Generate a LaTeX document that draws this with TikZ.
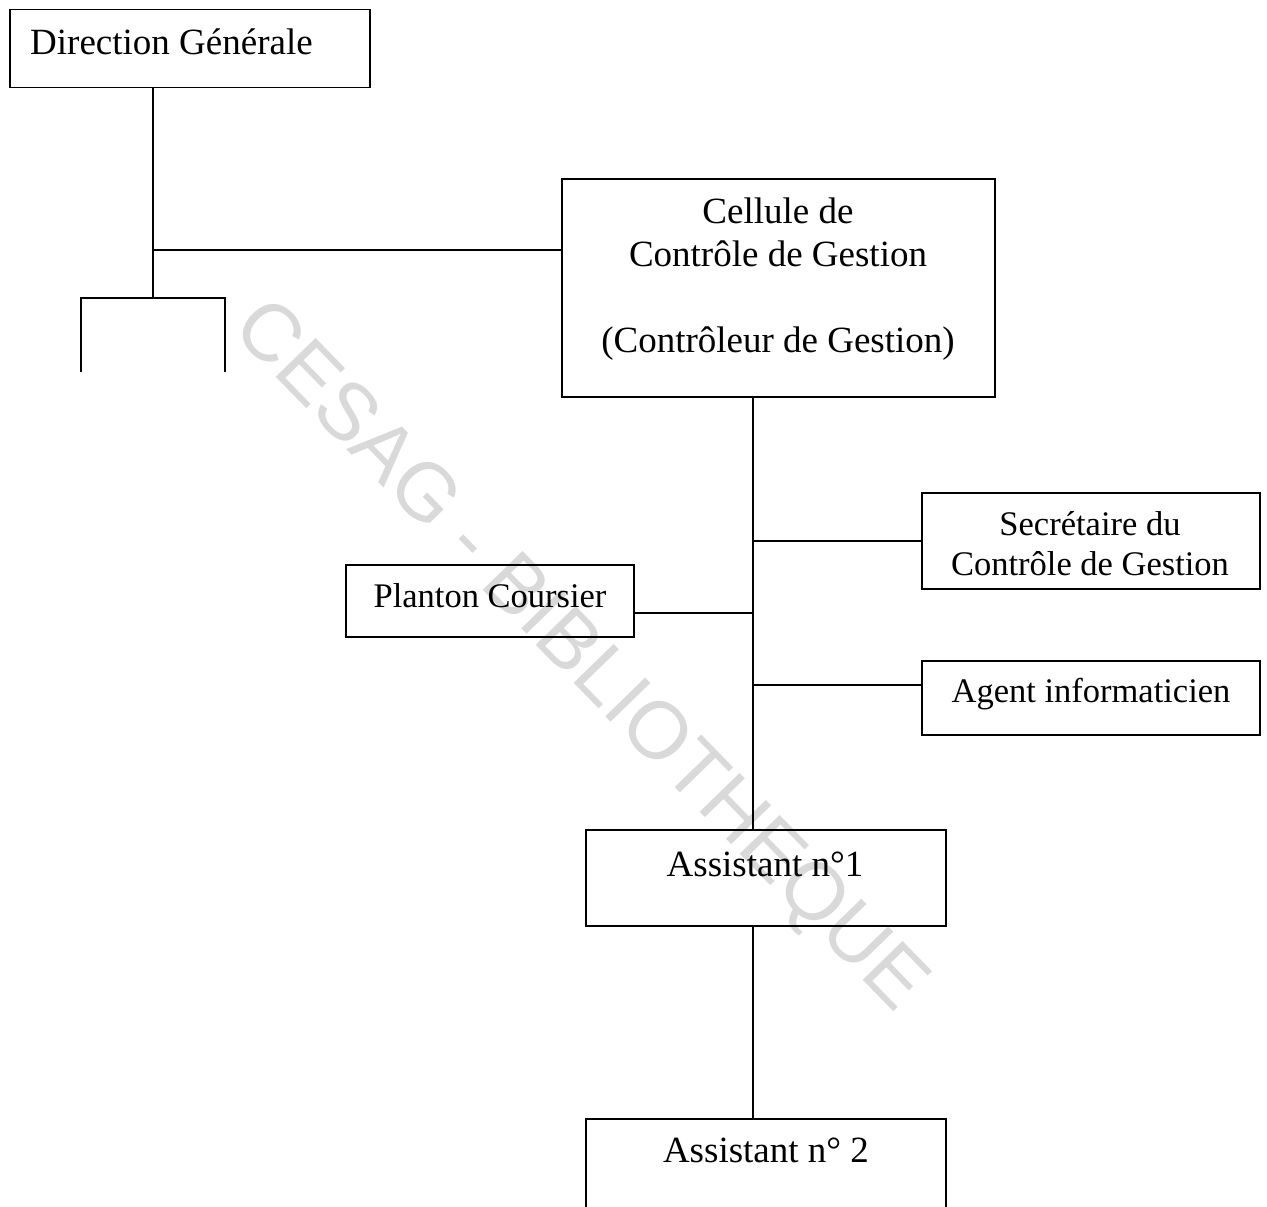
\documentclass[tikz,border=0pt]{standalone}
\usepackage{fontspec}
\setmainfont{Liberation Serif}
\newfontfamily\markfont{Liberation Sans}
\begin{document}
\begin{tikzpicture}[x=1pt,y=-1pt,
  box/.style={draw, line width=1.5pt, rectangle, inner sep=0pt, anchor=north west},
  link/.style={line width=1.5pt},
  big/.style={font=\fontsize{37}{44}\selectfont, inner sep=0pt, anchor=base},
  small/.style={font=\fontsize{34.5}{40}\selectfont, inner sep=0pt, anchor=base},
]
\useasboundingbox (0,0) rectangle (1267,1207);
\clip (0,0) rectangle (1267,1207);

% library stamp across the sheet
\node[rotate=-45.8, text=black!15, inner sep=0pt,
      font=\markfont\fontsize{81}{81}\selectfont] (stamp) at (578,658) {CESAG - BIBLIOTHEQUE};

% boxes
\node[box, minimum width=360, minimum height=78]  (dg)  at (9,9) {};
\node[box, minimum width=433, minimum height=218] (cg)  at (561,178) {};
\node[box, minimum width=338, minimum height=96]  (sec) at (921,492) {};
\node[box, minimum width=288, minimum height=72]  (pl)  at (345,564) {};
\node[box, minimum width=338, minimum height=74]  (ag)  at (921,660) {};
\node[box, minimum width=360, minimum height=96]  (a1)  at (585,829) {};
\node[box, minimum width=360, minimum height=140] (a2)  at (585,1118) {};

% open box under the general direction
\coordinate (lb) at (153,298);
\draw[link] (81,372) -- (81,298) -- (225,298) -- (225,372);

% labels
\node[big, anchor=base west] (dgt) at (30,55) {Direction Générale};
\node[big] (cg1) at (778,223) {Cellule de};
\node[big] (cg2) at (778,266) {Contrôle de Gestion};
\node[big] (cg3) at (778,352) {(Contrôleur de Gestion)};
\node[small] (sec1) at (1090,535) {Secrétaire du};
\node[small] (sec2) at (1090,575) {Contrôle de Gestion};
\node[small] (plt) at (490,607) {Planton Coursier};
\node[small] (agt) at (1091,702) {Agent informaticien};
\node[big] (a1t) at (765,876) {Assistant n°1};
\node[big] (a2t) at (766,1162) {Assistant n° 2};

% junctions
\coordinate (j1) at (153,250);
\coordinate (bs) at (753,541);
\coordinate (bp) at (753,613);
\coordinate (ba) at (753,685);

% connectors
\draw[link] (dg.south -| j1) -- (lb);
\draw[link] (j1) -- (cg.west |- j1);
\draw[link] (cg.south -| bs) -- (a1.north -| bs);
\draw[link] (bs) -- (sec.west |- bs);
\draw[link] (bp) -- (pl.east |- bp);
\draw[link] (ba) -- (ag.west |- ba);
\draw[link] (a1.south -| bs) -- (a2.north -| bs);
\end{tikzpicture}
\end{document}
